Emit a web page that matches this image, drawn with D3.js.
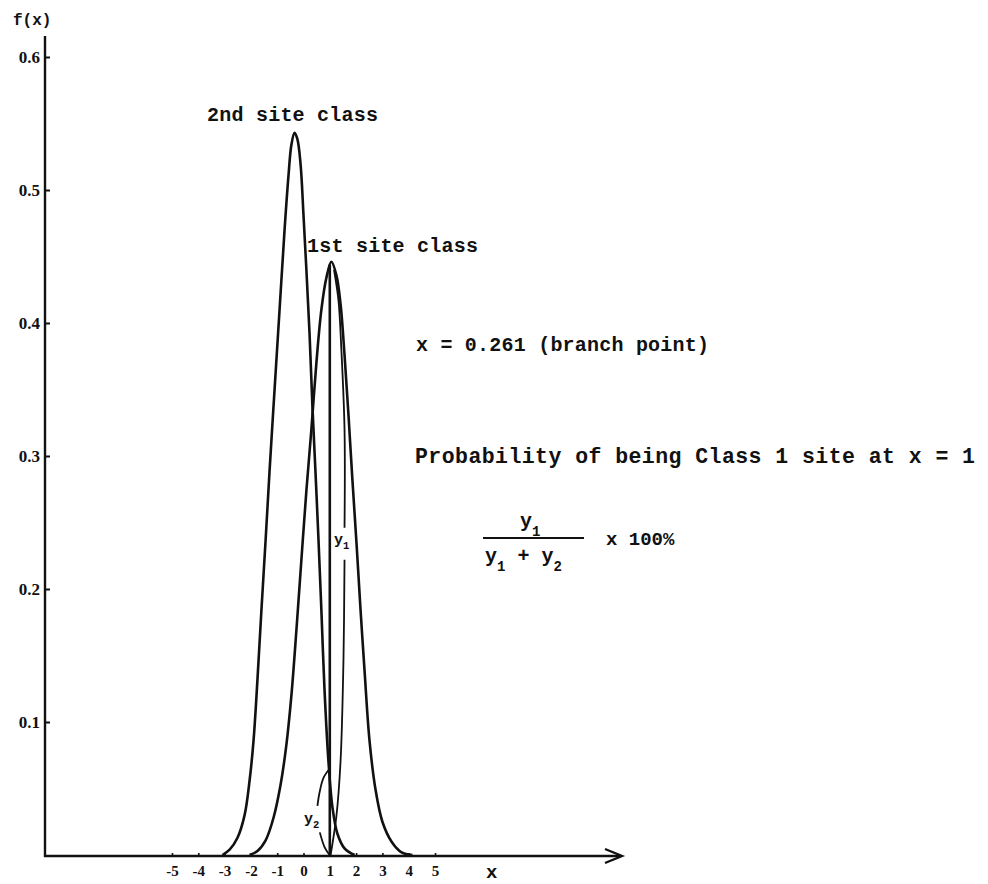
<!DOCTYPE html>
<html><head><meta charset="utf-8">
<script src="https://cdn.jsdelivr.net/npm/d3@7/dist/d3.min.js"></script>
<style>
html,body{margin:0;padding:0;background:#fff;}
svg{display:block;}
</style></head>
<body>
<svg id="chart" width="988" height="884"></svg>
<script>
// ---- data ----
const xTicks = [-5,-4,-3,-2,-1,0,1,2,3,4,5];
const yTicks = [0.1,0.2,0.3,0.4,0.5,0.6];
const yTickLabels = ["0.1","0.2","0.3","0.4","0.5","0.6"];

// 2nd site class density (x, f(x))
const class2 = [[-3.08,0],[-2.81,0.004],[-2.51,0.013],[-2.24,0.030],[-2.05,0.056],[-1.90,0.086],
  [-1.75,0.132],[-1.60,0.184],[-1.44,0.237],[-1.29,0.289],[-1.10,0.350],[-0.91,0.410],[-0.72,0.470],
  [-0.57,0.511],[-0.46,0.534],[-0.34,0.543],[-0.23,0.538],[-0.11,0.519],[0.0,0.481],[0.11,0.440],
  [0.23,0.392],[0.34,0.337],[0.46,0.286],[0.57,0.237],[0.68,0.184],[0.80,0.124],[0.95,0.070],
  [1.10,0.036],[1.29,0.016],[1.56,0.005],[1.94,0]];

// 1st site class density (x, f(x))
const class1 = [[-2.05,0],[-1.75,0.003],[-1.44,0.011],[-1.14,0.028],[-0.87,0.053],[-0.65,0.083],
  [-0.46,0.120],[-0.27,0.169],[-0.08,0.222],[0.11,0.274],[0.30,0.320],[0.49,0.370],[0.68,0.410],
  [0.87,0.434],[1.06,0.446],[1.25,0.436],[1.41,0.414],[1.56,0.376],[1.71,0.331],[1.86,0.282],
  [2.02,0.233],[2.17,0.184],[2.32,0.139],[2.51,0.086],[2.74,0.049],[3.00,0.025],[3.35,0.010],
  [3.73,0.002],[4.14,0]];

// marker at x = 1
const markX = 1;
const markTop = 0.444;

// y1 brace (lower part, upper part)
const braceY1Low = [[1.03,0],[1.25,0.029],[1.41,0.071],[1.52,0.147],[1.56,0.222]];
const braceY1High = [[1.56,0.246],[1.56,0.320],[1.44,0.380],[1.33,0.417],[1.16,0.440]];
// y2 brace
const braceY2High = [[1.0,0.065],[0.76,0.058],[0.61,0.047],[0.53,0.037]];
const braceY2Low = [[0.62,0.017],[0.80,0.006],[0.99,0]];

// ---- layout ----
const svg = d3.select("#chart");
const x = d3.scaleLinear().domain([-5,5]).range([172,435]);
const y = d3.scaleLinear().domain([0,0.6]).range([855,57]);
const axisLeftX = 45;
const axisEndX = 620;
const ink = "#111";

const g = svg.append("g");

// y axis
g.append("line").attr("x1",axisLeftX).attr("x2",axisLeftX)
  .attr("y1",y(0)+2).attr("y2",36).attr("stroke",ink).attr("stroke-width",2.4);
const ya = d3.axisLeft(y).tickValues(yTicks).tickSize(-5).tickPadding(5)
  .tickFormat((d,i)=>yTickLabels[i]);
const yg = g.append("g").attr("transform",`translate(${axisLeftX},0)`).call(ya);
yg.select(".domain").remove();
yg.selectAll(".tick line").attr("stroke",ink).attr("stroke-width",2);
yg.selectAll(".tick text").attr("fill",ink)
  .style("font-family","'Liberation Serif', serif").style("font-weight","bold").style("font-size","17px");

// x axis
g.append("line").attr("x1",axisLeftX-1).attr("x2",axisEndX)
  .attr("y1",y(0)+1).attr("y2",y(0)+1).attr("stroke",ink).attr("stroke-width",2.4);
g.append("path")
  .attr("d",`M${axisEndX-15},${y(0)+1-7} L${axisEndX+2},${y(0)+1} L${axisEndX-15},${y(0)+1+7}`)
  .attr("fill","none").attr("stroke",ink).attr("stroke-width",2.4);
const xa = d3.axisBottom(x).tickValues(xTicks).tickSize(-3).tickPadding(9)
  .tickFormat(d=>d<0? "-"+Math.abs(d) : String(d));
const xg = g.append("g").attr("transform",`translate(0,${y(0)+1})`).call(xa);
xg.select(".domain").remove();
xg.selectAll(".tick line").attr("stroke",ink).attr("stroke-width",1.6);
xg.selectAll(".tick text").attr("fill",ink)
  .style("font-family","'Liberation Serif', serif").style("font-weight","bold").style("font-size","15px");

// axis titles
g.append("text").attr("x",13).attr("y",25).text("f(x)")
  .style("font-family","'Liberation Mono', monospace").style("font-weight","bold").style("font-size","16px").attr("fill",ink);
g.append("text").attr("x",486).attr("y",878).text("x")
  .style("font-family","'Liberation Mono', monospace").style("font-weight","bold").style("font-size","19px").attr("fill",ink);

// curves
const line = d3.line().x(d=>x(d[0])).y(d=>y(d[1])).curve(d3.curveCatmullRom.alpha(0.5));
[class2, class1].forEach(c=>{
  g.append("path").datum(c).attr("d",line).attr("fill","none")
    .attr("stroke",ink).attr("stroke-width",2.6).attr("stroke-linejoin","round");
});
// vertical marker
g.append("line").attr("x1",x(markX)).attr("x2",x(markX)).attr("y1",y(0)).attr("y2",y(markTop))
  .attr("stroke",ink).attr("stroke-width",2.6);
// braces
[braceY1Low, braceY1High, braceY2High, braceY2Low].forEach(c=>{
  g.append("path").datum(c).attr("d",line).attr("fill","none")
    .attr("stroke",ink).attr("stroke-width",1.8);
});

// text helpers
const mono = sel => sel.style("font-family","'Liberation Mono', monospace").style("font-weight","bold").attr("fill",ink);

mono(g.append("text").attr("x",207).attr("y",121).style("font-size","20px")).attr("textLength",171).text("2nd site class");
mono(g.append("text").attr("x",307).attr("y",252).style("font-size","20px")).attr("textLength",171).text("1st site class");
mono(g.append("text").attr("x",416).attr("y",351).style("font-size","20px")).attr("textLength",293).text("x = 0.261 (branch point)");
mono(g.append("text").attr("x",415).attr("y",463).style("font-size","21.5px")).attr("textLength",560).text("Probability of being Class 1 site at x = 1");

// y labels on chart
function ySub(px, py, sub, fs){
  const t = mono(g.append("text").attr("x",px).attr("y",py).style("font-size",fs+"px"));
  t.append("tspan").text("y");
  t.append("tspan").attr("dy",fs*0.3).style("font-size",(fs*0.7)+"px").text(sub);
  return t;
}
ySub(334, 544, "1", 15);
ySub(304, 823, "2", 15);

// formula
const fx = 483, fbar = 538;
const num = mono(g.append("text").attr("x",520).attr("y",fbar-11).style("font-size","20px"));
num.append("tspan").text("y");
num.append("tspan").attr("dy",9).style("font-size","14px").text("1");
g.append("line").attr("x1",fx).attr("x2",584).attr("y1",fbar).attr("y2",fbar)
  .attr("stroke",ink).attr("stroke-width",2);
const den = mono(g.append("text").attr("x",fx+2).attr("y",fbar+24).style("font-size","20px"));
den.append("tspan").text("y");
den.append("tspan").attr("dy",9).style("font-size","14px").text("1");
den.append("tspan").attr("dy",-9).text(" + y");
den.append("tspan").attr("dy",9).style("font-size","14px").text("2");
mono(g.append("text").attr("x",606).attr("y",fbar+7).style("font-size","19px")).text("x 100%");
</script>
</body></html>
